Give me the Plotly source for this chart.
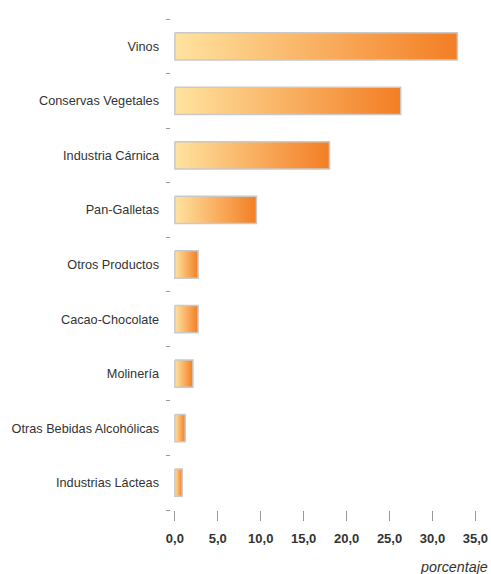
import plotly.graph_objects as go

categories = ["Vinos", "Conservas Vegetales", "Industria Cárnica", "Pan-Galletas",
              "Otros Productos", "Cacao-Chocolate", "Molinería",
              "Otras Bebidas Alcohólicas", "Industrias Lácteas"]
values = [32.9, 26.3, 18.0, 9.5, 2.7, 2.7, 2.1, 1.2, 0.85]
x_ticks = [0, 5, 10, 15, 20, 25, 30, 35]
x_tick_labels = ["0,0", "5,0", "10,0", "15,0", "20,0", "25,0", "30,0", "35,0"]
axis_title = "porcentaje"

FONT = "Liberation Sans, Arial, sans-serif"
half = 0.25  # half bar thickness in category units

fig = go.Figure()
for i, (cat, v) in enumerate(zip(categories, values)):
    fig.add_trace(go.Scatter(
        x=[0, v, v, 0, 0],
        y=[i - half, i - half, i + half, i + half, i - half],
        mode="lines",
        fill="toself",
        fillgradient=dict(type="horizontal",
                          colorscale=[[0, "#FFE3A0"], [1, "#F37E24"]]),
        line=dict(color="#C9C9C9", width=1.5),
        name=cat,
        showlegend=False,
        hoverinfo="text",
        text=f"{cat}: {v}",
    ))

fig.update_layout(
    width=491, height=574,
    margin=dict(l=171, r=13, t=19, b=64),
    paper_bgcolor="white", plot_bgcolor="white",
    font=dict(family=FONT, color="#333333"),
    xaxis=dict(
        range=[-0.45, 35.3], automargin=False,
        tickmode="array", tickvals=x_ticks, ticktext=x_tick_labels,
        ticks="outside", ticklen=10, tickcolor="#999999", tickwidth=1,
        showline=False, showgrid=False, zeroline=False,
        tickfont=dict(family=FONT, size=13, color="#333333", weight="bold"),
        ticklabelstandoff=6,
    ),
    yaxis=dict(
        range=[8.5, -0.5], automargin=False,
        tickmode="array", tickvals=list(range(len(categories))), ticktext=categories,
        ticks="", showline=False, showgrid=False, zeroline=False,
        tickfont=dict(family=FONT, size=12.7, color="#333333"),
        ticklabelstandoff=11,
        minor=dict(tickmode="array",
                   tickvals=[k - 0.5 for k in range(len(categories) + 1)],
                   ticks="outside", ticklen=4, tickcolor="#999999", tickwidth=1),
    ),
    annotations=[dict(
        text=axis_title, xref="paper", yref="paper", x=1, y=-0.116,
        xanchor="right", yanchor="middle", xshift=12, showarrow=False,
        font=dict(family=FONT, size=14.3, color="#333333", style="italic"),
    )],
)

fig.write_html(
    "out.html",
    config={"displayModeBar": False},
    post_script="document.body.style.margin='0';document.body.style.padding='0';",
)
